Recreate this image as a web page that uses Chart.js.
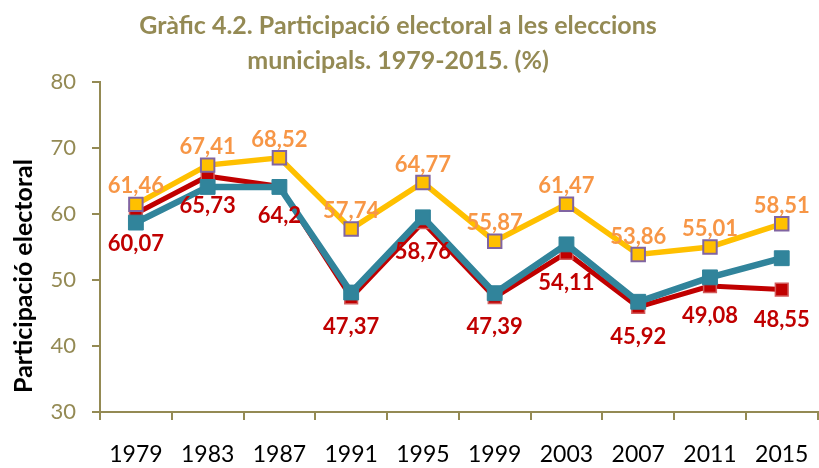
<!DOCTYPE html>
<html>
<head>
<meta charset="utf-8">
<script src="https://cdn.jsdelivr.net/npm/chart.js@4.4.1/dist/chart.umd.min.js"></script>
<style>
  html, body { margin: 0; padding: 0; background: #ffffff; overflow: hidden; }
  #wrap { width: 819px; height: 468px; overflow: hidden; position: relative; background: #ffffff; }
  canvas { display: block; }
</style>
</head>
<body>
<div id="wrap"><canvas id="c" width="830" height="468"></canvas></div>
<script>
const years = ['1979', '1983', '1987', '1991', '1995', '1999', '2003', '2007', '2011', '2015'];
const seriesYellow = [61.46, 67.41, 68.52, 57.74, 64.77, 55.87, 61.47, 53.86, 55.01, 58.51];
const seriesTeal = [58.7, 64.1, 64.1, 48.1, 59.5, 48.0, 55.4, 46.7, 50.4, 53.3];
const seriesRed = [60.07, 65.73, 64.2, 47.37, 58.76, 47.39, 54.11, 45.92, 49.08, 48.55];
const yTicks = [30, 40, 50, 60, 70, 80];
const titleLines = ['Gràfic 4.2. Participació electoral a les eleccions', 'municipals. 1979-2015. (%)'];
const yTitle = 'Participació electoral';

const OLIVE = '#948A54';
const FONT = 'Lato, "Open Sans", sans-serif';

function fmt(v) { return String(v).replace('.', ','); }

const textPlugin = {
  id: 'textPlugin',
  afterDatasetsDraw(chart) {
    const ctx = chart.ctx;
    ctx.save();
    ctx.font = 'bold 22px ' + FONT;
    ctx.textAlign = 'center';
    ctx.textBaseline = 'middle';
    chart.data.datasets.forEach((ds, i) => {
      if (!ds.labelPos) return;
      const meta = chart.getDatasetMeta(i);
      meta.data.forEach((pt, j) => {
        const dy = ds.labelPos === 'above' ? -18 : 30;
        ctx.fillStyle = ds.labelColor;
        ctx.fillText(fmt(ds.data[j]), pt.x, pt.y + dy);
      });
    });
    ctx.restore();
  },
  afterDraw(chart) {
    const ctx = chart.ctx;
    ctx.save();
    ctx.fillStyle = OLIVE;
    ctx.font = 'bold 25px ' + FONT;
    ctx.textAlign = 'center';
    ctx.textBaseline = 'alphabetic';
    ctx.fillText(titleLines[0], 398, 34);
    ctx.fillText(titleLines[1], 398, 69);
    ctx.translate(24, 276);
    ctx.rotate(-Math.PI / 2);
    ctx.fillStyle = '#000000';
    ctx.font = 'bold 25px ' + FONT;
    ctx.textBaseline = 'middle';
    ctx.fillText(yTitle, 0, 0);
    ctx.restore();
  }
};

new Chart(document.getElementById('c'), {
  type: 'line',
  data: {
    labels: years,
    datasets: [
      {
        label: 'A',
        data: seriesYellow,
        borderColor: '#FFC000',
        backgroundColor: '#FFC000',
        borderWidth: 5.5,
        pointStyle: 'rect',
        pointRadius: 9.5,
        pointHoverRadius: 9.5,
        pointBackgroundColor: '#FFC000',
        pointBorderColor: '#8064A2',
        pointBorderWidth: 2,
        tension: 0,
        labelPos: 'above',
        labelColor: '#F79646'
      },
      {
        label: 'B',
        data: seriesTeal,
        borderColor: '#31849B',
        backgroundColor: '#31849B',
        borderWidth: 6.5,
        pointStyle: 'rect',
        pointRadius: 10.5,
        pointHoverRadius: 10.5,
        pointBackgroundColor: '#31849B',
        pointBorderColor: '#31849B',
        pointBorderWidth: 1,
        tension: 0
      },
      {
        label: 'C',
        data: seriesRed,
        borderColor: '#C00000',
        backgroundColor: '#C00000',
        borderWidth: 5,
        pointStyle: 'rect',
        pointRadius: 9,
        pointHoverRadius: 9,
        pointBackgroundColor: '#C00000',
        pointBorderColor: '#D25A5A',
        pointBorderWidth: 1.5,
        tension: 0,
        labelPos: 'below',
        labelColor: '#C00000'
      }
    ]
  },
  options: {
    responsive: false,
    animation: false,
    events: [],
    layout: { padding: { top: 82, right: 8, bottom: 0, left: 0 } },
    plugins: {
      legend: { display: false },
      title: { display: false },
      tooltip: { enabled: false }
    },
    scales: {
      x: {
        offset: true,
        grid: { offset: true, drawOnChartArea: false, drawTicks: true, tickLength: 8, color: OLIVE, lineWidth: 2 },
        border: { color: OLIVE, width: 2 },
        ticks: { color: '#000000', font: { family: FONT, size: 23 }, padding: 21, maxRotation: 0, autoSkip: false },
        afterFit(scale) { scale.height = 56; }
      },
      y: {
        min: yTicks[0],
        max: yTicks[yTicks.length - 1],
        afterBuildTicks(scale) { scale.ticks = yTicks.map(v => ({ value: v })); },
        grid: { drawOnChartArea: false, drawTicks: true, tickLength: 8, color: OLIVE, lineWidth: 2 },
        border: { color: OLIVE, width: 2 },
        ticks: { color: OLIVE, font: { family: FONT, size: 22 }, padding: 16 },
        afterFit(scale) { scale.width = 100; }
      }
    }
  },
  plugins: [textPlugin]
});
</script>
</body>
</html>
